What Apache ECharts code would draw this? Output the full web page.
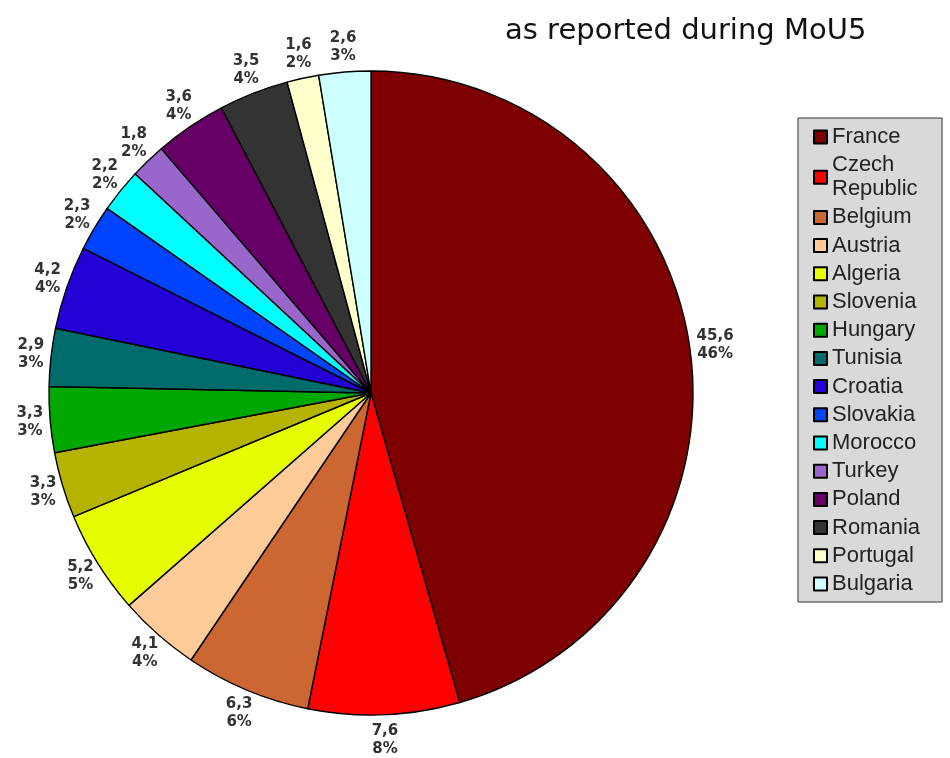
<!DOCTYPE html>
<html>
<head>
<meta charset="utf-8">
<style>
  html, body { margin: 0; padding: 0; background: #fff; }
  #chart { width: 950px; height: 758px; }
</style>
<script src="https://cdn.jsdelivr.net/npm/echarts@6/dist/echarts.min.js"></script>
</head>
<body>
<div id="chart"></div>
<script>
// data
const countries = ['France', 'Czech Republic', 'Belgium', 'Austria', 'Algeria', 'Slovenia',
  'Hungary', 'Tunisia', 'Croatia', 'Slovakia', 'Morocco', 'Turkey', 'Poland', 'Romania',
  'Portugal', 'Bulgaria'];
const values = [45.6, 7.6, 6.3, 4.1, 5.2, 3.3, 3.3, 2.9, 4.2, 2.3, 2.2, 1.8, 3.6, 3.5, 1.6, 2.6];
const colors = ['#7f0000', '#ff0000', '#cc6633', '#ffcc99', '#e6ff00', '#b3b300',
  '#00a800', '#006b6b', '#2300d6', '#0044ff', '#00ffff', '#9966cc', '#660066', '#333333',
  '#ffffcc', '#ccffff'];

const CX = 371, CY = 393, R = 322;
const LABEL_GAP = 7;

// mid angle of each slice, clockwise from 12 o'clock
const total = values.reduce((a, b) => a + b, 0);
const midAngles = [];
let acc = 0;
values.forEach((v) => {
  midAngles.push(((acc + v / 2) / total) * Math.PI * 2);
  acc += v;
});

const chart = echarts.init(document.getElementById('chart'));

const option = {
  animation: false,
  color: colors,
  title: {
    text: 'as reported during MoU5',
    left: 500,
    top: 12,
    textStyle: {
      fontFamily: 'DejaVu Sans',
      fontSize: 29,
      fontWeight: 'normal',
      color: '#111',
    },
  },
  legend: {
    orient: 'vertical',
    left: 798,
    top: 118,
    padding: [7, 22, 6, 15],
    itemGap: 4.2,
    itemWidth: 13,
    itemHeight: 13,
    icon: 'rect',
    backgroundColor: '#d9d9d9',
    borderColor: '#333',
    borderWidth: 1,
    formatter: (name) => (name === 'Czech Republic' ? 'Czech\nRepublic' : name),
    textStyle: {
      fontFamily: 'Liberation Sans',
      fontSize: 22,
      lineHeight: 24,
      color: '#222',
    },
  },
  series: [
    {
      type: 'pie',
      center: [CX, CY],
      radius: R,
      startAngle: 90,
      clockwise: true,
      avoidLabelOverlap: false,
      itemStyle: {
        borderColor: '#000',
        borderWidth: 1.4,
      },
      label: {
        show: true,
        position: 'outside',
        formatter: (p) => String(p.value).replace('.', ',') + '\n' + Math.round(p.percent) + '%',
        fontFamily: 'DejaVu Sans',
        fontWeight: 'bold',
        fontSize: 15,
        lineHeight: 18,
        align: 'center',
        color: '#333',
      },
      labelLine: { show: false },
      // put each label box just outside the rim, along the slice's middle direction
      labelLayout: (params) => {
        const a = midAngles[params.dataIndex];
        const sx = Math.sin(a), cy = -Math.cos(a);
        const w = params.labelRect.width, h = params.labelRect.height;
        return {
          x: CX + (R + LABEL_GAP) * sx + sx * w / 2,
          y: CY + (R + LABEL_GAP) * cy + cy * h / 2,
          align: 'center',
          verticalAlign: 'middle',
        };
      },
      emphasis: { disabled: true },
      data: countries.map((name, i) => ({ name, value: values[i] })),
    },
  ],
};

chart.setOption(option);
</script>
</body>
</html>
